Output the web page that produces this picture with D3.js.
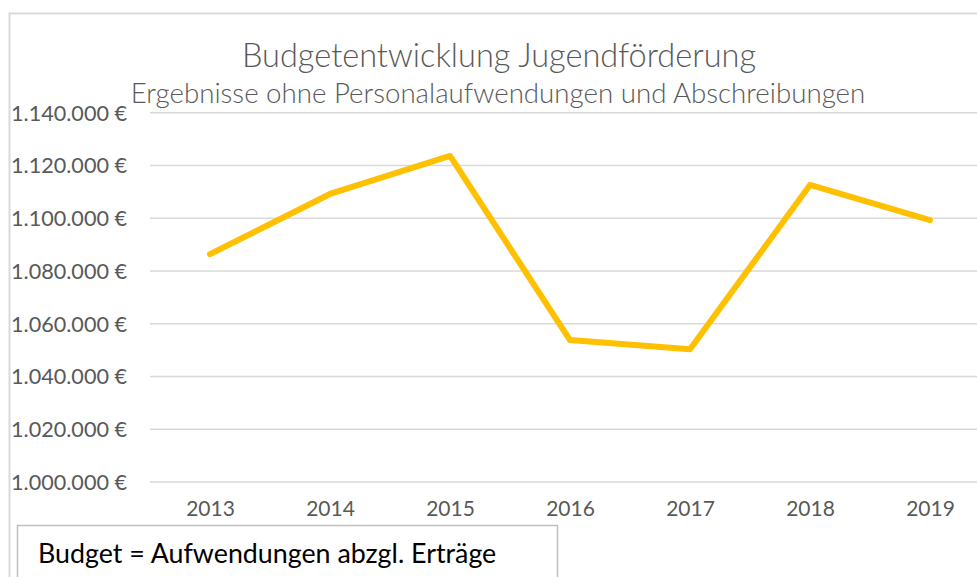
<!DOCTYPE html>
<html>
<head>
<meta charset="utf-8">
<script src="https://cdn.jsdelivr.net/npm/d3@7"></script>
<style>
  html, body { margin: 0; padding: 0; background: #fff; overflow: hidden; }
  svg { display: block; font-family: Lato, "Open Sans", sans-serif; }
</style>
</head>
<body>
<svg id="chart" width="977" height="577"></svg>
<script>
// Budget per year (Aufwendungen abzgl. Erträge), in Euro
const years = ["2013", "2014", "2015", "2016", "2017", "2018", "2019"];
const budget = [1086400, 1109200, 1123600, 1053800, 1050300, 1112600, 1099300];
const yTicks = [1000000, 1020000, 1040000, 1060000, 1080000, 1100000, 1120000, 1140000];

const titleText = "Budgetentwicklung Jugendförderung";
const subtitleText = "Ergebnisse ohne Personalaufwendungen und Abschreibungen";
const noteText = "Budget = Aufwendungen abzgl. Erträge";

const svg = d3.select("#chart");

// chart frame
svg.append("rect")
  .attr("x", 9.5).attr("y", 13.5)
  .attr("width", 1000).attr("height", 600)
  .attr("fill", "#fff")
  .attr("stroke", "#d9d9d9").attr("stroke-width", 2);

const x = d3.scalePoint().domain(years).range([210, 930]);
const y = d3.scaleLinear().domain([1000000, 1140000]).range([482, 112.7]);

// German number format: 1.140.000 €
const de = d3.formatLocale({ decimal: ",", thousands: ".", grouping: [3], currency: ["", " €"] });
const fmt = de.format("$,.0f");

// horizontal gridlines
svg.append("g")
  .selectAll("line")
  .data(yTicks)
  .join("line")
  .attr("x1", 150).attr("x2", 990)
  .attr("y1", d => y(d)).attr("y2", d => y(d))
  .attr("stroke", "#d9d9d9").attr("stroke-width", 1.5);

// y axis labels
const yAxis = d3.axisLeft(y).tickValues(yTicks).tickFormat(fmt).tickSize(0).tickPadding(0);
const gy = svg.append("g").attr("transform", "translate(127,0)").call(yAxis);
gy.select(".domain").remove();
gy.selectAll("text")
  .attr("fill", "#595959")
  .attr("font-size", 21.6)
  .attr("dy", "0.34em")
  .style("font-family", "Lato, 'Open Sans', sans-serif");

// x axis labels
const xAxis = d3.axisBottom(x).tickSize(0).tickPadding(0);
const gx = svg.append("g").attr("transform", "translate(0,501)").call(xAxis);
gx.select(".domain").remove();
gx.selectAll("text")
  .attr("fill", "#595959")
  .attr("font-size", 21)
  .attr("dy", "0.71em")
  .style("font-family", "Lato, 'Open Sans', sans-serif");

// budget line
const line = d3.line().x((d, i) => x(years[i])).y(d => y(d));
svg.append("path")
  .datum(budget)
  .attr("d", line)
  .attr("fill", "none")
  .attr("stroke", "#ffc000")
  .attr("stroke-width", 6)
  .attr("stroke-linejoin", "round")
  .attr("stroke-linecap", "round");

// titles
svg.append("text")
  .attr("x", 499).attr("y", 67)
  .attr("text-anchor", "middle")
  .attr("fill", "#595959")
  .attr("font-size", 32.5)
  .attr("font-weight", 300)
  .text(titleText);

svg.append("text")
  .attr("x", 498).attr("y", 103)
  .attr("text-anchor", "middle")
  .attr("fill", "#595959")
  .attr("font-size", 27.7)
  .attr("font-weight", 300)
  .text(subtitleText);

// explanatory note box
svg.append("rect")
  .attr("x", 17.5).attr("y", 525.5)
  .attr("width", 540).attr("height", 80)
  .attr("fill", "#fff")
  .attr("stroke", "#bfbfbf").attr("stroke-width", 1.5);

svg.append("text")
  .attr("x", 38).attr("y", 563)
  .attr("fill", "#000")
  .attr("font-size", 26.8)
  .text(noteText);
</script>
</body>
</html>
